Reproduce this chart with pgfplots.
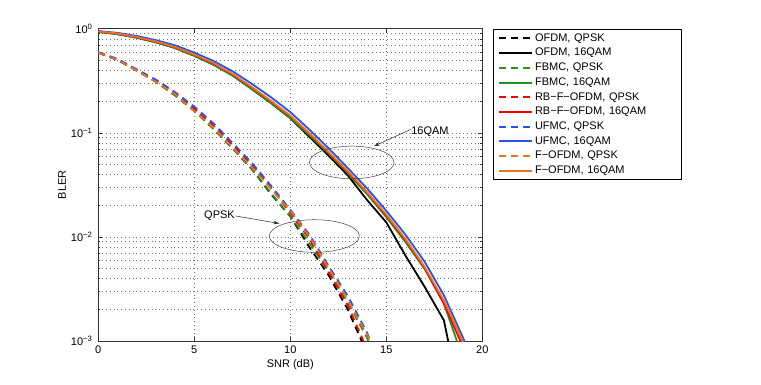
\documentclass[border=0pt]{standalone}
\usepackage{fontspec}
\setmainfont{Liberation Sans}
\usepackage{pgfplots}
\pgfplotsset{compat=1.18}
\usetikzlibrary{arrows.meta}
\definecolor{cblue}{RGB}{40,80,255}
\definecolor{cgreen}{RGB}{30,150,30}
\definecolor{cred}{RGB}{255,0,0}
\definecolor{corange}{RGB}{235,115,30}
\begin{document}
\fontsize{11}{13}\selectfont
\begin{tikzpicture}
\path (0pt,0pt) rectangle (761pt,384pt);
\begin{axis}[
  at={(98.3pt,43pt)}, anchor=south west,
  scale only axis, width=384pt, height=312.3pt,
  xmin=0, xmax=20, ymin=1e-3, ymax=1, ymode=log,
  xtick={0,5,...,20},
  ytick={1e-3,1e-2,1e-1,1},
  yticklabels={10\textsuperscript{−3},10\textsuperscript{−2},10\textsuperscript{−1},10\textsuperscript{0}},
  /pgf/number format/assume math mode=true,
  tick label style={font=\fontsize{11}{13}\selectfont},
  xticklabel style={yshift=-1pt},
  yticklabel style={xshift=-2pt},
  tick align=inside,
  major tick length=4pt, minor tick length=2pt,
  grid=both,
  major grid style={black!55, dash pattern=on 0.8pt off 3pt, line width=0.5pt},
  minor grid style={black!55, dash pattern=on 0.8pt off 3pt, line width=0.5pt},
  axis line style={black!80, line width=0.7pt},
  every tick/.style={black!80, line width=0.5pt},
  xlabel={SNR (dB)}, ylabel={BLER},
  xlabel style={at={(axis description cs:0.5,-0.077)}, anchor=center},
  ylabel style={at={(axis description cs:-0.0945,0.5)}, anchor=center},
  label style={font=\fontsize{11}{13}\selectfont},
  legend cell align=left,
  legend style={at={(axis description cs:1.0285,0.998)}, anchor=north west,
    draw=black, line width=0.6pt, font=\fontsize{11}{13}\selectfont,
    inner xsep=4pt, inner ysep=1.5pt,
    nodes={text height=8pt, text depth=2.5pt, inner ysep=2.1pt, inner xsep=2.5pt, text width=140pt},
    row sep=0pt},
  legend image code/.code={\draw[#1, line width=2pt] plot coordinates {(0pt,0pt) (33pt,0pt)};},
  every axis plot/.append style={line width=1.8pt, line join=round},
  qp/.style={dash pattern=on 7pt off 5pt},
]
% OFDM QPSK
\addplot[black, qp] coordinates {(0,0.589) (1,0.501) (2,0.398) (3,0.309) (4,0.229) (5,0.162) (6,0.1096) (7,0.0708) (8,0.0447) (9,0.0257) (10,0.0158) (11,0.00794) (12,0.00427) (13,0.00200) (14,0.000759) (15,0.000251)};
\addlegendentry{OFDM, QPSK}
% OFDM 16QAM
\addplot[black] coordinates {(0,0.933) (1,0.887) (2,0.820) (3,0.741) (4,0.653) (5,0.550) (6,0.452) (7,0.355) (8,0.263) (9,0.193) (10,0.138) (11,0.0912) (12,0.0603) (13,0.0389) (14,0.0226) (15,0.0138) (16,0.00661) (17,0.00331) (18,0.00158) (19,0.0002) (20,0.0000316)};
\addlegendentry{OFDM, 16QAM}
% FBMC QPSK
\addplot[cgreen, qp] coordinates {(0,0.589) (1,0.501) (2,0.398) (3,0.309) (4,0.229) (5,0.162) (6,0.1096) (7,0.0708) (8,0.0447) (9,0.0263) (10,0.0158) (11,0.00871) (12,0.00468) (13,0.00234) (14,0.00107) (15,0.000398)};
\addlegendentry{FBMC, QPSK}
% FBMC 16QAM
\addplot[cgreen] coordinates {(0,0.933) (1,0.887) (2,0.820) (3,0.741) (4,0.653) (5,0.550) (6,0.452) (7,0.355) (8,0.263) (9,0.193) (10,0.138) (11,0.0944) (12,0.0631) (13,0.0407) (14,0.0257) (15,0.0155) (16,0.00891) (17,0.00490) (18,0.00229) (19,0.000676) (20,0.0002)};
\addlegendentry{FBMC, 16QAM}
% RB-F-OFDM QPSK
\addplot[cred, qp] coordinates {(0,0.589) (1,0.501) (2,0.398) (3,0.316) (4,0.240) (5,0.170) (6,0.1175) (7,0.0759) (8,0.0490) (9,0.0295) (10,0.0170) (11,0.00955) (12,0.00457) (13,0.00219) (14,0.000832) (15,0.000251)};
\addlegendentry{RB−F−OFDM, QPSK}
% RB-F-OFDM 16QAM
\addplot[cred] coordinates {(0,0.940) (1,0.895) (2,0.828) (3,0.750) (4,0.664) (5,0.560) (6,0.462) (7,0.363) (8,0.272) (9,0.1995) (10,0.1445) (11,0.0977) (12,0.0646) (13,0.0417) (14,0.0266) (15,0.0160) (16,0.00933) (17,0.00501) (18,0.00229) (19,0.000871) (20,0.000316)};
\addlegendentry{RB−F−OFDM, 16QAM}
% UFMC QPSK
\addplot[cblue, qp] coordinates {(0,0.596) (1,0.513) (2,0.407) (3,0.324) (4,0.2455) (5,0.178) (6,0.123) (7,0.0794) (8,0.0513) (9,0.0309) (10,0.0182) (11,0.01047) (12,0.00525) (13,0.00269) (14,0.0012) (15,0.000398)};
\addlegendentry{UFMC, QPSK}
% UFMC 16QAM
\addplot[cblue] coordinates {(0,0.951) (1,0.912) (2,0.851) (3,0.776) (4,0.692) (5,0.589) (6,0.490) (7,0.389) (8,0.295) (9,0.219) (10,0.158) (11,0.107) (12,0.0708) (13,0.0457) (14,0.0292) (15,0.0178) (16,0.0105) (17,0.00575) (18,0.00275) (19,0.00107) (20,0.000398)};
\addlegendentry{UFMC, 16QAM}
% F-OFDM QPSK
\addplot[corange, qp] coordinates {(0,0.589) (1,0.501) (2,0.398) (3,0.309) (4,0.234) (5,0.162) (6,0.112) (7,0.0724) (8,0.0468) (9,0.0288) (10,0.0178) (11,0.0100) (12,0.00501) (13,0.00245) (14,0.00115) (15,0.000447)};
\addlegendentry{F−OFDM, QPSK}
% F-OFDM 16QAM
\addplot[corange] coordinates {(0,0.942) (1,0.899) (2,0.832) (3,0.755) (4,0.668) (5,0.565) (6,0.468) (7,0.367) (8,0.275) (9,0.202) (10,0.146) (11,0.0989) (12,0.0653) (13,0.0427) (14,0.0269) (15,0.0164) (16,0.00955) (17,0.00513) (18,0.00245) (19,0.000977) (20,0.000355)};
\addlegendentry{F−OFDM, 16QAM}
% annotations
\draw[black!75, line width=0.5pt] (axis cs:13.2,0.0519) ellipse [x radius=42.3pt, y radius=16.3pt];
\draw[black!85, line width=0.5pt, -{Stealth[length=6pt,width=3.5pt]}] (axis cs:16.27,0.1078) -- (axis cs:14.36,0.0745);
\node[anchor=west, inner sep=0pt, font=\fontsize{11}{13}\selectfont] at (axis cs:16.29,0.1035) {16QAM};
\draw[black!75, line width=0.5pt] (axis cs:11.25,0.0102) ellipse [x radius=45pt, y radius=16.3pt];
\draw[black!85, line width=0.5pt, -{Stealth[length=6pt,width=3.5pt]}] (axis cs:7.15,0.0159) -- (axis cs:9.43,0.01345);
\node[anchor=east, inner sep=0pt, font=\fontsize{11}{13}\selectfont] at (axis cs:7.12,0.0160) {QPSK};
\end{axis}
\end{tikzpicture}
\end{document}
